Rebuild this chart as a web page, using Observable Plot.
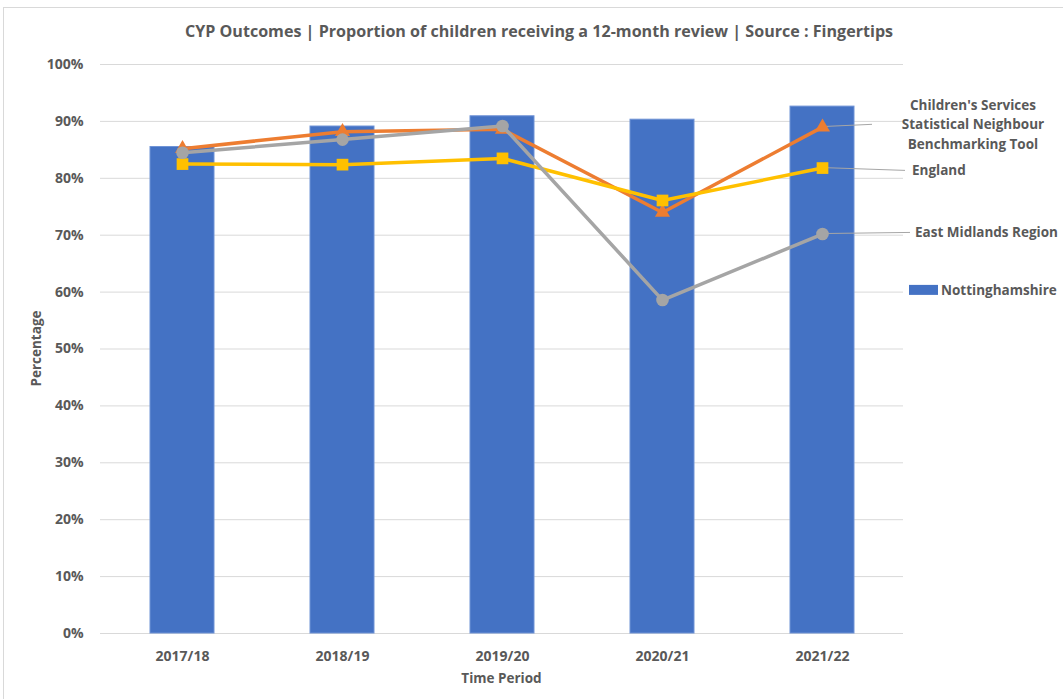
<!DOCTYPE html>
<html>
<head>
<meta charset="utf-8">
<script src="https://cdn.jsdelivr.net/npm/d3@7"></script>
<script src="https://cdn.jsdelivr.net/npm/@observablehq/plot@0.6"></script>
<style>
  html, body { margin: 0; padding: 0; background: #fff; }
  #wrap { position: relative; width: 1063px; height: 699px; overflow: hidden; }
  #frame { position: absolute; left: 3px; top: 7px; width: 1070px; height: 700px; border: 1px solid #d9d9d9; box-sizing: border-box; pointer-events: none; }
</style>
</head>
<body>
<div id="wrap"><div id="frame"></div><div id="chart"></div></div>
<script>
const periods = ["2017/18", "2018/19", "2019/20", "2020/21", "2021/22"];
const nottinghamshire = [85.5, 89.1, 90.9, 90.3, 92.6];
const cssnbt = [85.2, 88.2, 88.6, 74.0, 89.0];
const england = [82.5, 82.4, 83.5, 76.1, 81.8];
const eastMidlands = [84.5, 86.8, 89.2, 58.6, 70.2];
const yTicks = [0, 10, 20, 30, 40, 50, 60, 70, 80, 90, 100];

const seriesNames = ["Children's Services\nStatistical Neighbour\nBenchmarking Tool", "England", "East Midlands Region", "Nottinghamshire"];

const colors = { bar: "#4472C4", cssnbt: "#ED7D31", england: "#FFC000", em: "#A5A5A5" };
const textColor = "#595959";
const FONT = "'Open Sans', Lato, sans-serif";

const rows = (vals, name) => periods.map((p, i) => ({ period: p, value: vals[i], series: name }));
const barData = rows(nottinghamshire, "Nottinghamshire");
const cssData = rows(cssnbt, seriesNames[0]);
const engData = rows(england, seriesNames[1]);
const emData = rows(eastMidlands, seriesNames[2]);

const last = periods[periods.length - 1];
// label layout (y in data units for placement, dx offsets in px)
const labels = [
  { text: seriesNames[0], y: 89.4, dx: 151, anchor: "middle", from: cssnbt[4], lineTo: 50 },
  { text: seriesNames[1], y: 81.3, dx: 90, anchor: "start", from: england[4], lineTo: 83 },
  { text: seriesNames[2], y: 70.4, dx: 93, anchor: "start", from: eastMidlands[4], lineTo: 88 }
];

const plot = Plot.plot({
  width: 1063,
  height: 699,
  marginLeft: 100,
  marginRight: 160,
  marginTop: 64,
  marginBottom: 66,
  style: { fontFamily: FONT, color: textColor, background: "transparent" },
  x: { domain: periods, paddingInner: 0.6, paddingOuter: 0.3, label: null, tickSize: 0, tickPadding: 18 },
  y: { domain: [0, 100], ticks: yTicks, tickFormat: d => d + "%", label: null, tickSize: 0, tickPadding: 17 },
  marks: [
    Plot.ruleY(yTicks, { stroke: "#d9d9d9", strokeWidth: 1 }),
    Plot.barY(barData, { x: "period", y: "value", fill: colors.bar, stroke: "#6f93d6", strokeWidth: 1 }),
    Plot.line(cssData, { x: "period", y: "value", stroke: colors.cssnbt, strokeWidth: 3.5 }),
    Plot.dot(cssData, { x: "period", y: "value", symbol: "triangle", r: 5.6, fill: colors.cssnbt }),
    Plot.line(engData, { x: "period", y: "value", stroke: colors.england, strokeWidth: 3.5 }),
    Plot.dot(engData, { x: "period", y: "value", symbol: "square", r: 6.6, fill: colors.england }),
    Plot.line(emData, { x: "period", y: "value", stroke: colors.em, strokeWidth: 3.5 }),
    Plot.dot(emData, { x: "period", y: "value", symbol: "circle", r: 6.3, fill: colors.em })
  ]
});

const svg = d3.select(plot);
const xs = plot.scale("x"), ys = plot.scale("y");
const bw = xs.bandwidth;
const xc = xs.apply(last) + bw / 2;

svg.selectAll("[aria-label='x-axis tick label'], [aria-label='y-axis tick label']")
  .attr("font-size", 14).attr("font-weight", "bold").attr("fill", textColor);

const g = svg.append("g").attr("fill", textColor).attr("font-weight", "bold").attr("font-size", 13.5).attr("text-anchor", "start");

// leader lines and series labels
labels.forEach(l => {
  svg.insert("line", "[aria-label='line']")
    .attr("x1", xc).attr("y1", ys.apply(l.from))
    .attr("x2", xc + l.lineTo).attr("y2", ys.apply(l.y))
    .attr("stroke", "#a6a6a6").attr("stroke-width", 1);
  const lines = l.text.split("\n");
  const t = g.append("text").attr("text-anchor", l.anchor)
    .attr("x", xc + l.dx).attr("y", ys.apply(l.y));
  const lh = 19.5;
  lines.forEach((s, i) => {
    t.append("tspan").attr("x", xc + l.dx)
      .attr("dy", i === 0 ? (-(lines.length - 1) / 2 * lh) : lh)
      .attr("dominant-baseline", "central").text(s);
  });
});

// Nottinghamshire legend
const legY = ys.apply(60.3);
g.append("rect").attr("x", xc + 87).attr("y", legY - 5).attr("width", 29).attr("height", 10).attr("fill", colors.bar);
g.append("text").attr("x", xc + 119).attr("y", legY).attr("dominant-baseline", "central").text(seriesNames[3]);

// title and axis titles
const W = 1063;
svg.append("text").attr("x", 539).attr("y", 31).attr("text-anchor", "middle").attr("dominant-baseline", "central")
  .attr("font-weight", "bold").attr("font-size", 16.1).attr("fill", textColor)
  .text("CYP Outcomes | Proportion of children receiving a 12-month review | Source : Fingertips");
svg.append("text").attr("x", (100 + (W - 160)) / 2).attr("y", 678).attr("text-anchor", "middle").attr("dominant-baseline", "central")
  .attr("font-weight", "bold").attr("font-size", 13.5).attr("fill", textColor).text("Time Period");
svg.append("text").attr("transform", `translate(36,${(64 + 633) / 2}) rotate(-90)`).attr("text-anchor", "middle").attr("dominant-baseline", "central")
  .attr("font-weight", "bold").attr("font-size", 13.5).attr("fill", textColor).text("Percentage");

document.getElementById("chart").appendChild(plot);
</script>
</body>
</html>
